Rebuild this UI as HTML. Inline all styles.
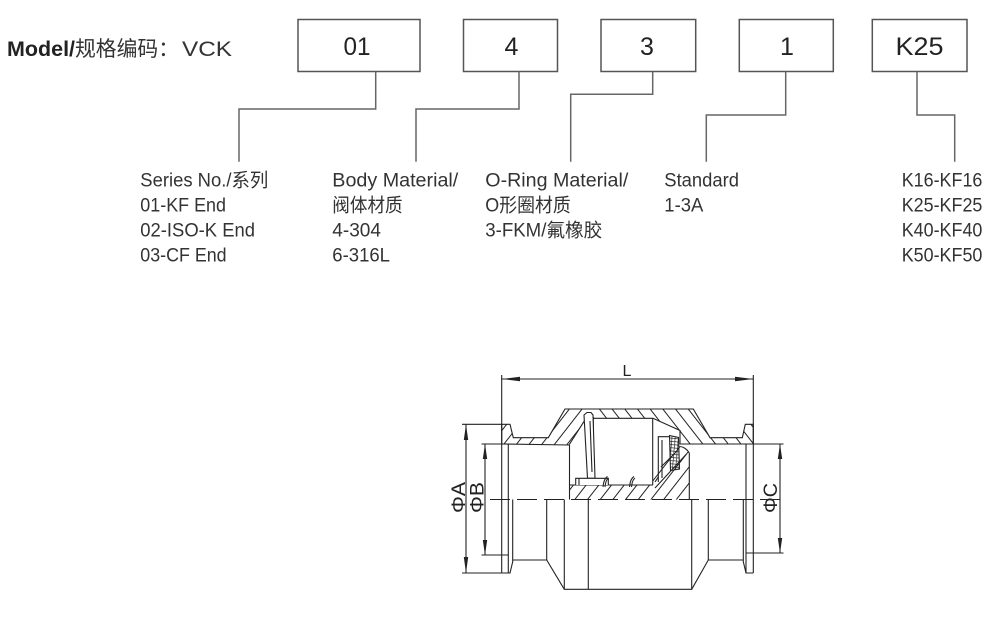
<!DOCTYPE html>
<html><head><meta charset="utf-8">
<style>html,body{margin:0;padding:0;background:#fff}svg{display:block}</style>
</head><body>
<svg xmlns="http://www.w3.org/2000/svg" width="1004" height="617" viewBox="0 0 1004 617">
<defs>
  <pattern id="hf" width="10" height="10" patternUnits="userSpaceOnUse" patternTransform="rotate(38)">
    <line x1="0.5" y1="0" x2="0.5" y2="10" stroke="#222" stroke-width="1"/>
  </pattern>
  <pattern id="hb" width="10" height="10" patternUnits="userSpaceOnUse" patternTransform="rotate(-38)">
    <line x1="0.5" y1="0" x2="0.5" y2="10" stroke="#222" stroke-width="1"/>
  </pattern>
  <pattern id="hx" width="3.2" height="3.2" patternUnits="userSpaceOnUse" patternTransform="rotate(5)">
    <path d="M0,0.3 H3.2 M0.3,0 V3.2" stroke="#222" stroke-width="0.7"/>
  </pattern>
  <clipPath id="cl"><rect x="0" y="0" width="591" height="617"/></clipPath>
  <clipPath id="cr"><rect x="591" y="0" width="413" height="617"/></clipPath>
</defs>
<rect width="1004" height="617" fill="#fff"/>

<!-- Title -->
<g font-family="'Liberation Sans','Noto Sans CJK SC',sans-serif" fill="#222">
  <text x="7" y="56" font-size="21" font-weight="bold" textLength="68" lengthAdjust="spacingAndGlyphs">Model/</text>
  <text x="75" y="56" font-size="21" fill="#333" textLength="104" lengthAdjust="spacingAndGlyphs">规格编码：</text>
  <text x="182" y="56" font-size="21" fill="#333" textLength="50" lengthAdjust="spacingAndGlyphs">VCK</text>
</g>

<!-- Boxes -->
<g fill="none" stroke="#555" stroke-width="1.5">
  <rect x="298" y="19.5" width="122" height="52"/>
  <rect x="463.5" y="19.5" width="94" height="52"/>
  <rect x="601" y="19.5" width="94.7" height="52"/>
  <rect x="739.3" y="19.5" width="94" height="52"/>
  <rect x="872.3" y="19.5" width="94.7" height="52"/>
</g>
<g font-family="'Liberation Sans',sans-serif" font-size="25" fill="#222" text-anchor="middle">
  <text x="357" y="55" textLength="27" lengthAdjust="spacingAndGlyphs">01</text>
  <text x="511.5" y="55">4</text>
  <text x="647" y="55">3</text>
  <text x="787" y="55">1</text>
  <text x="919.5" y="55" textLength="48" lengthAdjust="spacingAndGlyphs">K25</text>
</g>

<!-- Connectors -->
<g fill="none" stroke="#666" stroke-width="1.5">
  <polyline points="375.7,71.5 375.7,109 239,109 239,161.7"/>
  <polyline points="519,71.5 519,109 416,109 416,161.7"/>
  <polyline points="652.7,71.5 652.7,94.3 570.7,94.3 570.7,161.7"/>
  <polyline points="785.7,71.5 785.7,115 706.3,115 706.3,161.7"/>
  <polyline points="917,71.5 917,115 954.7,115 954.7,161.7"/>
</g>

<!-- Option text -->
<g font-family="'Liberation Sans','Noto Sans CJK SC',sans-serif" font-size="19" fill="#333">
  <text x="140.3" y="186.5" textLength="128" lengthAdjust="spacingAndGlyphs">Series No./系列</text>
  <text x="140.3" y="211.5" textLength="85.7" lengthAdjust="spacingAndGlyphs">01-KF End</text>
  <text x="140.3" y="236.5" textLength="114.7" lengthAdjust="spacingAndGlyphs">02-ISO-K End</text>
  <text x="140.3" y="261.5" textLength="86.3" lengthAdjust="spacingAndGlyphs">03-CF End</text>

  <text x="332.3" y="186.5" textLength="126" lengthAdjust="spacingAndGlyphs">Body Material/</text>
  <text x="332.3" y="211.5" textLength="70.3" lengthAdjust="spacingAndGlyphs">阀体材质</text>
  <text x="332.3" y="236.5" textLength="48.7" lengthAdjust="spacingAndGlyphs">4-304</text>
  <text x="332.3" y="261.5" textLength="57.7" lengthAdjust="spacingAndGlyphs">6-316L</text>

  <text x="485.3" y="186.5" textLength="143" lengthAdjust="spacingAndGlyphs">O-Ring Material/</text>
  <text x="485.3" y="211.5" textLength="85.4" lengthAdjust="spacingAndGlyphs">O形圈材质</text>
  <text x="485.3" y="236.5" textLength="117" lengthAdjust="spacingAndGlyphs">3-FKM/氟橡胶</text>

  <text x="664.3" y="186.5" textLength="74.7" lengthAdjust="spacingAndGlyphs">Standard</text>
  <text x="664.3" y="211.5" textLength="39" lengthAdjust="spacingAndGlyphs">1-3A</text>

  <text x="901.7" y="186.5" textLength="80.7" lengthAdjust="spacingAndGlyphs">K16-KF16</text>
  <text x="901.7" y="211.5" textLength="80.7" lengthAdjust="spacingAndGlyphs">K25-KF25</text>
  <text x="901.7" y="236.5" textLength="80.7" lengthAdjust="spacingAndGlyphs">K40-KF40</text>
  <text x="901.7" y="261.5" textLength="80.7" lengthAdjust="spacingAndGlyphs">K50-KF50</text>
</g>

<!-- ===== Drawing ===== -->
<g stroke="#222" stroke-width="1.1" fill="none" stroke-linejoin="miter">
  <g clip-path="url(#cl)"><path d="M501.7,424.3 L510,424.3 L513.3,437.7 L548.3,437.7 L565,409 L693.3,409 L710,437.7 L742.3,437.7 L745.3,424.3 L753.3,424.3 L753.3,444 L680,444 L680,430.5 L653,418.3 L593,418.3 L586,418.3 L569,445 L501.7,444 Z" fill="url(#hf)" stroke="none"/></g>
  <g clip-path="url(#cr)"><path d="M501.7,424.3 L510,424.3 L513.3,437.7 L548.3,437.7 L565,409 L693.3,409 L710,437.7 L742.3,437.7 L745.3,424.3 L753.3,424.3 L753.3,444 L680,444 L680,430.5 L653,418.3 L593,418.3 L586,418.3 L569,445 L501.7,444 Z" fill="url(#hb)" stroke="none"/></g>
  <path d="M501.7,424.3 L510,424.3 L513.3,437.7 L548.3,437.7 L565,409 L693.3,409 L710,437.7 L742.3,437.7 L745.3,424.3 L753.3,424.3 L753.3,444 L680,444 L680,430.5 L653,418.3 L593,418.3 L586,418.3 L569,445 L501.7,444 Z"/>

  <rect x="570" y="485" width="83" height="14.5" fill="url(#hf)" stroke="none"/>
  <line x1="570" y1="485" x2="653" y2="485"/>
  <line x1="569.5" y1="445" x2="569.5" y2="499.5"/>

  <line x1="593.3" y1="418.3" x2="593.3" y2="480"/>
  <line x1="652.7" y1="418.3" x2="652.7" y2="485"/>

  <path d="M584,415 L587,412.5 L591,412.5 L593,415 L595,478.3 L587.5,478.3 Z" fill="#fff"/>
  <line x1="590" y1="421" x2="592" y2="472"/>
  <path d="M575.7,485 L575.7,478.3 L608.3,478.3 L608.3,485" fill="#fff"/>
  <line x1="579" y1="478.3" x2="579" y2="485"/>

  <path d="M603,487 C603.5,483 604,479 607.5,476.5 M605,487 C605.5,483 606,480 608.5,478"/>
  <path d="M629.5,487 C630,483 630.5,479 634,476.5 M631.5,487 C632,483 632.5,480 635,478"/>

  <path d="M658.3,482 L658.3,436.7 L669.3,436.7"/>
  <line x1="662" y1="440" x2="662" y2="478"/>
  <path d="M655,482 L658.3,477"/>

  <path d="M669.5,435.5 L678.5,437.5 L679.5,469 L670.5,470.5 Z" fill="url(#hx)"/>

  <path d="M653,499.5 L689.3,499.5 L689.3,453 C687,449 683,446.5 679.5,446.5 L676,452 L661,467 L653,474 Z" fill="url(#hf)" stroke="none"/>
  <path d="M689.3,499.5 L689.3,453 C687,449 683,446.5 679.5,446.5"/>
  <path d="M686.5,454 L655,488"/>
  <path d="M679.5,447 L676,452 L661,467"/>

  <line x1="501.7" y1="424.3" x2="501.7" y2="573"/>
  <line x1="508.3" y1="444" x2="508.3" y2="573"/>
  <path d="M501.7,573 L510,573 L512.7,561.7 L512.7,499.5"/>
  <path d="M512.7,560 L546.7,560 L564.3,589.3 L691.7,589.3 L708.3,560 L743.3,560"/>
  <line x1="546.7" y1="499.5" x2="546.7" y2="560"/>
  <line x1="564.3" y1="499.5" x2="564.3" y2="589.3"/>
  <line x1="588.3" y1="499.5" x2="588.3" y2="589.3"/>
  <line x1="691.7" y1="499.5" x2="691.7" y2="589.3"/>
  <line x1="708.3" y1="499.5" x2="708.3" y2="560"/>
  <path d="M743.3,499.5 L743.3,561.7 L746,573 L753.3,573"/>
  <line x1="746" y1="444" x2="746" y2="573"/>
  <line x1="753.3" y1="424.3" x2="753.3" y2="573"/>

  <line x1="490" y1="499.5" x2="785" y2="499.5" stroke-dasharray="20 7"/>

  <line x1="501.7" y1="375" x2="501.7" y2="424.3"/>
  <line x1="753.3" y1="375" x2="753.3" y2="424.3"/>
  <line x1="501.7" y1="379" x2="753.3" y2="379"/>
  <line x1="462" y1="424.3" x2="501.7" y2="424.3"/>
  <line x1="462" y1="573" x2="501.7" y2="573"/>
  <line x1="466" y1="424.3" x2="466" y2="573"/>
  <line x1="481.5" y1="444" x2="501.7" y2="444"/>
  <line x1="481.5" y1="555" x2="508.3" y2="555"/>
  <line x1="485" y1="444" x2="485" y2="555"/>
  <line x1="753.3" y1="444" x2="783.5" y2="444"/>
  <line x1="746" y1="553" x2="783.5" y2="553"/>
  <line x1="780" y1="444" x2="780" y2="553"/>
</g>

<g fill="#222" stroke="none">
  <polygon points="501.7,379 520,376.8 520,381.2"/>
  <polygon points="753.3,379 735,376.8 735,381.2"/>
  <polygon points="466,424.3 463.8,440 468.2,440"/>
  <polygon points="466,573 463.8,557 468.2,557"/>
  <polygon points="485,444 482.8,459 487.2,459"/>
  <polygon points="485,555 482.8,540 487.2,540"/>
  <polygon points="780,444 777.8,459 782.2,459"/>
  <polygon points="780,553 777.8,538 782.2,538"/>
</g>

<g font-family="'Liberation Sans','DejaVu Sans',sans-serif" fill="#222">
  <text x="627" y="376" font-size="16" text-anchor="middle">L</text>
  <text transform="translate(465,497.5) rotate(-90)" font-size="19" text-anchor="middle" textLength="31" lengthAdjust="spacingAndGlyphs">ΦA</text>
  <text transform="translate(483.5,497.5) rotate(-90)" font-size="19" text-anchor="middle" textLength="31" lengthAdjust="spacingAndGlyphs">ΦB</text>
  <text transform="translate(777,498) rotate(-90)" font-size="19" text-anchor="middle" textLength="30" lengthAdjust="spacingAndGlyphs">ΦC</text>
</g>
</svg>
</body></html>
